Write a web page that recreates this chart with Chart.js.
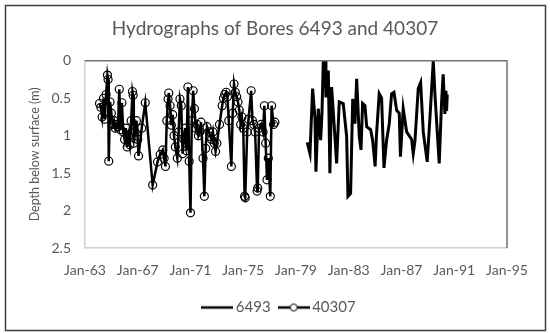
<!DOCTYPE html>
<html>
<head>
<meta charset="utf-8">
<script src="https://cdn.jsdelivr.net/npm/chart.js@4.4.0/dist/chart.umd.min.js"></script>
<style>
  body { margin: 0; background: #fff; }
  #wrap { width: 550px; height: 333px; }
</style>
</head>
<body>
<div id="wrap"><canvas id="mycanvas" width="550" height="333"></canvas></div>
<script>
// Bore 40307 (line with open circles), decimal years and depth below surface (m)
var years40307 = [1964.10, 1964.20, 1964.30, 1964.40, 1964.50, 1964.60, 1964.70, 1964.75, 1964.80, 1964.90,
	1965.00, 1965.10, 1965.20, 1965.30, 1965.40, 1965.50, 1965.60, 1965.70, 1965.80, 1965.90,
	1966.00, 1966.10, 1966.20, 1966.30, 1966.40, 1966.50, 1966.60, 1966.65, 1966.70, 1966.80,
	1966.90, 1967.00, 1967.06, 1967.30, 1967.57, 1968.13, 1968.50, 1968.70, 1968.90, 1969.00,
	1969.10, 1969.20, 1969.30, 1969.35, 1969.45, 1969.55, 1969.65, 1969.75, 1969.85, 1970.00,
	1970.10, 1970.20, 1970.30, 1970.40, 1970.50, 1970.60, 1970.70, 1970.80, 1970.90, 1971.00,
	1971.10, 1971.20, 1971.30, 1971.40, 1971.50, 1971.60, 1971.70, 1971.80, 1971.95, 1972.05,
	1972.15, 1972.25, 1972.40, 1972.50, 1972.60, 1972.70, 1972.80, 1972.90, 1973.00, 1973.20,
	1973.40, 1973.50, 1973.60, 1973.70, 1973.80, 1973.90, 1974.10, 1974.20, 1974.30, 1974.40,
	1974.50, 1974.60, 1974.70, 1974.80, 1974.90, 1975.00, 1975.10, 1975.15, 1975.30, 1975.40,
	1975.60, 1975.70, 1975.80, 1975.90, 1976.05, 1976.10, 1976.20, 1976.35, 1976.50, 1976.60,
	1976.70, 1976.80, 1976.90, 1977.05, 1977.15, 1977.30, 1977.40];
var depth40307 = [0.57, 0.62, 0.75, 0.50, 0.78, 0.45, 0.19, 0.25, 1.34, 0.55,
	0.70, 0.85, 0.80, 0.90, 0.85, 0.88, 0.38, 0.92, 0.56, 0.95,
	1.05, 0.90, 1.15, 1.00, 1.12, 0.80, 0.41, 0.46, 1.10, 0.95,
	0.80, 1.05, 1.27, 0.90, 0.56, 1.66, 1.35, 1.25, 1.19, 1.30,
	1.41, 0.80, 0.51, 0.43, 0.60, 0.86, 0.72, 1.00, 1.15, 1.30,
	0.95, 0.51, 0.60, 1.24, 1.05, 0.90, 1.20, 0.35, 1.34, 2.03,
	0.80, 0.40, 0.64, 0.90, 0.85, 1.00, 0.95, 0.82, 1.30, 1.81,
	1.17, 0.88, 0.95, 1.01, 1.05, 0.95, 1.10, 1.21, 1.10, 0.85,
	0.60, 0.50, 0.45, 0.42, 0.48, 0.80, 1.41, 0.70, 0.31, 0.42,
	0.48, 0.55, 0.66, 0.85, 0.75, 0.90, 1.81, 1.83, 0.95, 0.78,
	0.40, 0.80, 0.85, 0.95, 1.74, 1.70, 0.90, 0.85, 0.95, 0.60,
	1.10, 1.59, 1.30, 1.81, 0.60, 0.85, 0.82];

// Bore 6493 (plain line)
var years6493 = [1979.85, 1980.06, 1980.26, 1980.44, 1980.51, 1980.69, 1980.87, 1980.97, 1981.07, 1981.20,
	1981.27, 1981.45, 1981.57, 1981.70, 1981.95, 1982.08, 1982.28, 1982.58, 1982.84, 1982.94,
	1983.14, 1983.30, 1983.47, 1983.60, 1983.80, 1983.93, 1984.05, 1984.23, 1984.36, 1984.66,
	1984.81, 1985.00, 1985.10, 1985.31, 1985.49, 1985.67, 1985.87, 1986.07, 1986.25, 1986.43,
	1986.63, 1986.83, 1986.92, 1987.13, 1987.39, 1987.77, 1987.89, 1988.02, 1988.27, 1988.45,
	1988.65, 1988.95, 1989.16, 1989.41, 1989.54, 1989.86, 1990.04, 1990.16, 1990.29, 1990.37,
	1990.42, 1990.47];
var depth6493 = [1.09, 1.24, 0.37, 0.77, 1.48, 0.64, 1.06, 0.70, 0.00, 0.00,
	0.49, 0.13, 1.50, 0.35, 1.01, 1.37, 0.55, 0.57, 1.01, 1.81,
	1.77, 0.51, 0.84, 0.24, 1.01, 1.19, 0.57, 0.60, 0.88, 0.92,
	1.06, 1.41, 1.00, 0.44, 0.50, 1.43, 1.06, 0.84, 0.44, 0.42,
	0.66, 0.70, 1.28, 0.64, 0.95, 1.05, 1.24, 1.07, 0.37, 0.29,
	0.95, 1.35, 0.75, 0.00, 0.46, 1.37, 0.55, 0.18, 0.71, 0.40,
	0.67, 0.45];

var xTicks = [1963, 1967, 1971, 1975, 1979, 1983, 1987, 1991, 1995];
var yTicks = [0, 0.5, 1, 1.5, 2, 2.5];

function toPoints(xs, ys) {
	var pts = [];
	for (var i in xs) {
		pts.push({x: xs[i], y: ys[i]});
	}
	return pts;
}

// little legend symbols
function legendIcon(withCircle) {
	var c = document.createElement('canvas');
	c.width = 32; c.height = 10;
	var g = c.getContext('2d');
	g.strokeStyle = '#000';
	g.lineWidth = 2.5;
	g.beginPath(); g.moveTo(0, 5); g.lineTo(32, 5); g.stroke();
	if (withCircle) {
		g.fillStyle = '#fff';
		g.lineWidth = 1;
		g.beginPath(); g.arc(16, 5, 3.5, 0, Math.PI * 2); g.fill(); g.stroke();
	}
	return c;
}
var icons = [legendIcon(false), legendIcon(true)];

var frame = {
	id: 'frame',
	afterLayout: function(chart) {
		// excel centres title and legend on the whole chart, not the plot
		chart.titleBlock.left += 8; chart.titleBlock.right += 8;
		chart.legend.left += 14; chart.legend.right += 14;
	},
	beforeDraw: function(chart) {
		var g = chart.ctx;
		g.save();
		g.fillStyle = '#fff';
		g.fillRect(0, 0, chart.width, chart.height);
		g.strokeStyle = '#404040';
		g.lineWidth = 1.5;
		g.strokeRect(5.5, 5.5, 540, 325);
		g.restore();
	},
	afterDraw: function(chart) {
		var a = chart.chartArea, g = chart.ctx;
		g.save();
		g.strokeStyle = '#707070';
		g.lineWidth = 1.5;
		g.beginPath();
		g.moveTo(a.left, a.top); g.lineTo(a.right, a.top); g.lineTo(a.right, a.bottom);
		g.stroke();
		g.restore();
	}
};

var grey = '#595959';
var font = 'Lato';

new Chart(document.getElementById('mycanvas'), {
	type: 'line',
	data: {
		datasets: [
			{
				label: '6493',
				data: toPoints(years6493, depth6493),
				borderColor: '#000',
				borderWidth: 3,
				pointRadius: 0,
				tension: 0
			},
			{
				label: '40307',
				data: toPoints(years40307, depth40307),
				borderColor: '#000',
				borderWidth: 2.5,
				pointRadius: 4,
				pointBorderWidth: 1.2,
				pointBorderColor: '#000',
				pointBackgroundColor: 'rgba(255,255,255,0)',
				tension: 0
			}
		]
	},
	options: {
		responsive: false,
		animation: false,
		layout: { padding: { left: 27, right: 43, top: 10, bottom: 8 } },
		plugins: {
			title: {
				display: true,
				text: 'Hydrographs of Bores 6493 and 40307',
				color: grey,
				font: { family: font, size: 19, weight: 'normal' },
				padding: { top: 7, bottom: 21 }
			},
			legend: {
				position: 'bottom',
				labels: {
					color: grey,
					font: { family: font, size: 15 },
					usePointStyle: true,
					pointStyleWidth: 22,
					boxHeight: 10,
					padding: 12,
					generateLabels: function(chart) {
						var items = Chart.defaults.plugins.legend.labels.generateLabels(chart);
						items.forEach(function(it, i) { it.pointStyle = icons[i]; });
						return items;
					}
				}
			},
			tooltip: { enabled: false }
		},
		scales: {
			x: {
				type: 'linear',
				min: 1963,
				max: 1995,
				afterBuildTicks: function(scale) {
					scale.ticks = xTicks.map(function(v) { return {value: v}; });
				},
				afterFit: function(scale) { scale.height = 40; },
				grid: { display: false, drawTicks: false },
				border: { display: true, color: '#d0d0d0', width: 1.5 },
				ticks: {
					color: grey,
					font: { family: font, size: 14 },
					padding: 14,
					maxRotation: 0,
					callback: function(v) { return 'Jan-' + String(v).slice(2); }
				}
			},
			y: {
				reverse: true,
				min: 0,
				max: 2.5,
				afterBuildTicks: function(scale) {
					scale.ticks = yTicks.map(function(v) { return {value: v}; });
				},
				afterFit: function(scale) { scale.width = 58; },
				grid: { display: false, drawTicks: false },
				border: { display: true, color: '#d0d0d0', width: 1.5 },
				title: {
					display: true,
					text: 'Depth below surface (m)',
					color: grey,
					font: { family: font, size: 12.5 },
					padding: { top: 0, bottom: 4 }
				},
				ticks: {
					color: grey,
					font: { family: font, size: 14 },
					padding: 14,
					callback: function(v) { return String(v); }
				}
			}
		}
	},
	plugins: [frame]
});
</script>
</body>
</html>
